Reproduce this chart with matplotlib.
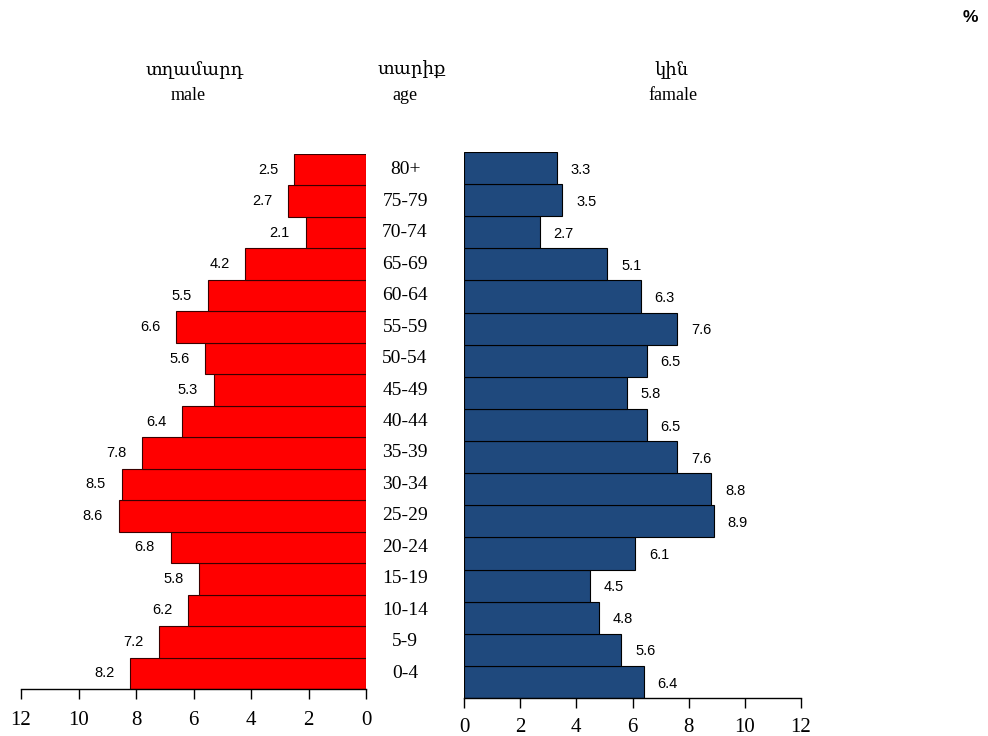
import matplotlib
matplotlib.use("Agg")
import matplotlib.pyplot as plt
from matplotlib.transforms import blended_transform_factory

# Age groups, bottom to top
ages = ['0-4', '5-9', '10-14', '15-19', '20-24', '25-29', '30-34', '35-39',
        '40-44', '45-49', '50-54', '55-59', '60-64', '65-69', '70-74', '75-79', '80+']
male = [8.2, 7.2, 6.2, 5.8, 6.8, 8.6, 8.5, 7.8, 6.4, 5.3, 5.6, 6.6, 5.5, 4.2, 2.1, 2.7, 2.5]
female = [6.4, 5.6, 4.8, 4.5, 6.1, 8.9, 8.8, 7.6, 6.5, 5.8, 6.5, 7.6, 6.3, 5.1, 2.7, 3.5, 3.3]
ticks = [0, 2, 4, 6, 8, 10, 12]

male_color = '#FF0000'
female_color = '#1F497D'
serif = ['Liberation Serif', 'DejaVu Serif']
sans = ['Liberation Sans', 'DejaVu Sans']

fig = plt.figure(figsize=(9.88, 7.36), dpi=100, facecolor='white')
ax_l = fig.add_axes([21 / 988, 1 - 689 / 736, 345 / 988, 535 / 736])
ax_r = fig.add_axes([464 / 988, 1 - 698 / 736, 337 / 988, 546 / 736])

pos = list(range(len(ages)))

ax_l.barh(pos, male, height=1.0, color=male_color, edgecolor='#3a0000', linewidth=0.8)
ax_r.barh(pos, female, height=1.0, color=female_color, edgecolor='#000000', linewidth=0.8)

for ax, pad in ((ax_l, 9), (ax_r, 7.5)):
    ax.set_ylim(-0.5, len(ages) - 0.5)
    ax.set_yticks([])
    for s in ('top', 'left', 'right'):
        ax.spines[s].set_visible(False)
    ax.spines['bottom'].set_linewidth(1.0)
    ax.set_xticks(ticks)
    ax.set_xticklabels([str(t) for t in ticks], family=serif, fontsize=15)
    ax.tick_params(axis='x', direction='out', length=7, width=1.0, pad=pad)
    ax.set_facecolor('white')

ax_l.set_xlim(12, 0)
ax_r.set_xlim(0, 12)

# value labels
for i, v in enumerate(male):
    ax_l.text(v + 0.9, i, f'{v:.1f}', ha='center', va='center',
              family=sans, fontsize=10.5, color='#000000')
for i, v in enumerate(female):
    ax_r.text(v + 0.85, i - 0.05, f'{v:.1f}', ha='center', va='center',
              family=sans, fontsize=10.5, color='#000000')

# age labels between the two halves
tr = blended_transform_factory(fig.transFigure, ax_l.transData)
for i, a in enumerate(ages):
    ax_l.text(405 / 988, i, a, transform=tr, ha='center', va='center',
              family=serif, fontsize=14, clip_on=False)

# headers
hdr = dict(ha='center', va='center', family=serif, fontsize=13)
fig.text(195 / 988, 1 - 70 / 736, 'տղամարդ', **hdr)
fig.text(188 / 988, 1 - 95 / 736, 'male', **hdr)
fig.text(412 / 988, 1 - 70 / 736, 'տարիք', **hdr)
fig.text(405 / 988, 1 - 95 / 736, 'age', **hdr)
fig.text(671 / 988, 1 - 70 / 736, 'կին', **hdr)
fig.text(673 / 988, 1 - 95 / 736, 'famale', **hdr)
fig.text(970 / 988, 1 - 18 / 736, '%', ha='center', va='center', family=sans,
         fontsize=12.5, fontweight='bold')

fig.savefig('out.png', dpi=100, facecolor='white')
